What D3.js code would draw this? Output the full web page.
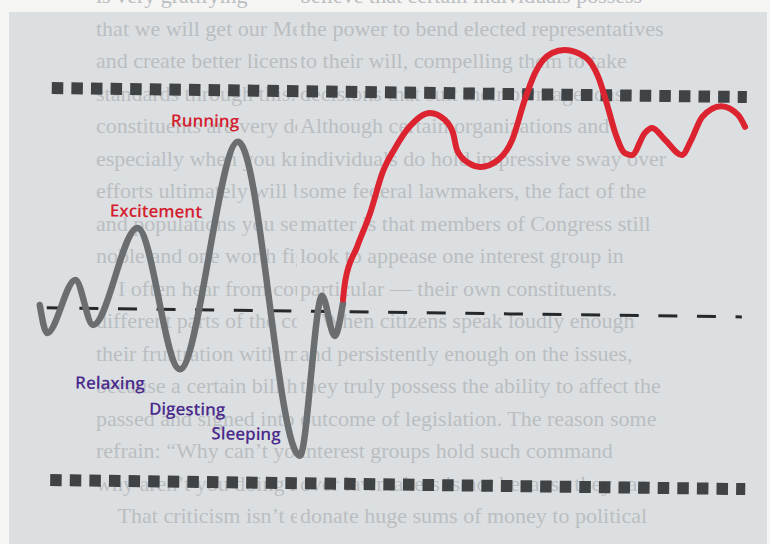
<!DOCTYPE html>
<html>
<head>
<meta charset="utf-8">
<script src="https://cdn.jsdelivr.net/npm/d3@7"></script>
<style>
  html, body { margin: 0; padding: 0; background: #f5f5f3; }
  svg { display: block; }
</style>
</head>
<body>
<div id="chart"></div>
<script>
// gray trace, calm states
var restTime  = [0, 1.1, 5.0, 7.6, 13.7, 20.0, 27.8, 37.2, 40.0, 41.9, 43.0];
var restLevel = [4.46, 3.75, 5.11, 3.97, 6.46, 2.87, 8.69, 0.70, 4.79, 3.77, 4.61];

// red trace, after the jump
var stressTime  = [43.0, 43.3, 44.9, 46.7, 48.4, 50.1, 52.1, 55.0, 57.1, 58.3, 58.9, 60.5, 62.2, 64.7, 66.7, 68.4, 69.8,
                   72.2, 74.0, 76.9, 78.8, 80.2, 81.3, 82.7, 83.7, 85.5, 86.5, 88.4, 90.8, 92.1, 93.6, 96.3, 98.7, 99.7];
var stressLevel = [4.7, 5.20, 6.05, 6.92, 7.97, 8.58, 9.13, 9.49, 9.32, 8.98, 8.55, 8.23, 8.13, 8.31, 8.83, 9.85, 10.54,
                   11.06, 11.14, 10.97, 10.46, 9.70, 9.04, 8.53, 8.48, 9.05, 9.18, 8.88, 8.50, 8.89, 9.48, 9.76, 9.54, 9.24];

// state labels
var stateNames = ['Running', 'Excitement', 'Relaxing', 'Digesting', 'Sleeping'];
var stateTime  = [23.1, 16.3, 10.1, 21.1, 29.5];
var stateLevel = [9.06, 6.74, 2.34, 1.70, 1.09];
var stateHigh  = [true, true, false, false, false];

// reference lines
var limitNames = ['upper', 'baseline', 'lower'];
var limitLevel = [10, 4.39, 0];
var limitStart = [1.3, 1.0, 1.8];
var limitEnd   = [99.9, 99.6, 100.4];

// page text showing through
var leftText = [
    'is very gratifying',
    'that we will get our Medicare',
    'and create better licensure',
    'standards through this. I know',
    'constituents are very dedicated',
    'especially when you know your',
    'efforts ultimately will benefit',
    'and populations you serve. It is',
    'noble and one worth fighting',
    '    I often hear from counselors',
    'different parts of the country',
    'their frustration with me over',
    'because a certain bill has not',
    'passed and signed into law.',
    'refrain: \u201cWhy can\u2019t you get',
    'why aren\u2019t you doing more',
    '    That criticism isn\u2019t enjoyable'
];
var rightText = [
    'believe that certain individuals possess',
    'the power to bend elected representatives',
    'to their will, compelling them to take',
    'decisions that suit their own agendas.',
    'Although certain organizations and',
    'individuals do hold impressive sway over',
    'some federal lawmakers, the fact of the',
    'matter is that members of Congress still',
    'look to appease one interest group in',
    'particular \u2014 their own constituents.',
    '    When citizens speak loudly enough',
    'and persistently enough on the issues,',
    'they truly possess the ability to affect the',
    'outcome of legislation. The reason some',
    'interest groups hold such command',
    'over lawmakers is not because they can',
    'donate huge sums of money to political'
];

var W = 770, H = 544;

var svg = d3.select('#chart').append('svg')
    .attr('width', W)
    .attr('height', H);

svg.append('rect')
    .attr('width', W).attr('height', H)
    .attr('fill', '#f5f5f3');

svg.append('rect')
    .attr('x', 9).attr('y', 12)
    .attr('width', 758).attr('height', H - 12)
    .attr('fill', '#dcdfe1');

var defs = svg.append('defs');
defs.append('clipPath').attr('id', 'clipL')
    .append('rect').attr('x', 0).attr('y', 0).attr('width', 297).attr('height', H);
defs.append('clipPath').attr('id', 'clipR')
    .append('rect').attr('x', 297).attr('y', 0).attr('width', W - 297).attr('height', H);

var page = svg.append('g')
    .attr('font-family', 'Liberation Serif, serif')
    .attr('font-size', '22px')
    .attr('fill', '#babec1');

page.append('g').attr('clip-path', 'url(#clipL)')
  .selectAll('text')
    .data(leftText)
  .enter().append('text')
    .attr('x', 96)
    .attr('y', (d, i) => 3 + i * 32.5)
    .attr('xml:space', 'preserve')
    .text(d => d);

page.append('g').attr('clip-path', 'url(#clipR)')
  .selectAll('text')
    .data(rightText)
  .enter().append('text')
    .attr('x', 300)
    .attr('y', (d, i) => 3 + i * 32.5)
    .attr('xml:space', 'preserve')
    .text(d => d);

// the printed chart sits slightly askew in the photo
var chart = svg.append('g')
    .attr('transform', 'rotate(0.75, 395, 290)');

var x = d3.scaleLinear()
    .domain([0, 100])
    .range([40, 745]);

var y = d3.scaleLinear()
    .domain([0, 10])
    .range([484.5, 92.5]);

var limits = limitNames.map((name, i) => ({
    name: name, level: limitLevel[i], start: limitStart[i], end: limitEnd[i]
}));

chart.selectAll('.limit')
    .data(limits)
  .enter().append('line')
    .attr('class', d => 'limit ' + d.name)
    .attr('x1', d => x(d.start))
    .attr('x2', d => x(d.end))
    .attr('y1', d => y(d.level))
    .attr('y2', d => y(d.level))
    .style('stroke', d => d.name == 'baseline' ? '#26292b' : '#3f4345')
    .style('stroke-width', d => d.name == 'baseline' ? 3 : 12)
    .style('stroke-dasharray', d => d.name == 'baseline' ? '19 19.6' : '11.5 8.1')
    .style('stroke-dashoffset', d => d.name == 'baseline' ? 6 : 0);

var line = d3.line()
    .curve(d3.curveMonotoneX)
    .x(d => x(d.t))
    .y(d => y(d.v));

var rest = restTime.map((t, i) => ({ t: t, v: restLevel[i] }));
var stress = stressTime.map((t, i) => ({ t: t, v: stressLevel[i] }));

chart.append('path')
    .datum(rest)
    .attr('class', 'trace rest')
    .attr('fill', 'none')
    .style('stroke', '#6b6e70')
    .style('stroke-width', 6.5)
    .style('stroke-linecap', 'round')
    .attr('d', line);

chart.append('path')
    .datum(stress)
    .attr('class', 'trace stress')
    .attr('fill', 'none')
    .style('stroke', '#dc2430')
    .style('stroke-width', 6)
    .style('stroke-linecap', 'round')
    .attr('d', line);

chart.selectAll('.state')
    .data(stateNames)
  .enter().append('text')
    .attr('class', 'state')
    .attr('x', (d, i) => x(stateTime[i]))
    .attr('y', (d, i) => y(stateLevel[i]))
    .attr('text-anchor', 'middle')
    .attr('font-family', 'Open Sans, sans-serif')
    .attr('font-weight', 600)
    .attr('font-size', '17px')
    .attr('fill', (d, i) => stateHigh[i] ? '#d4202e' : '#4a2b8c')
    .text(d => d);
</script>
</body>
</html>
